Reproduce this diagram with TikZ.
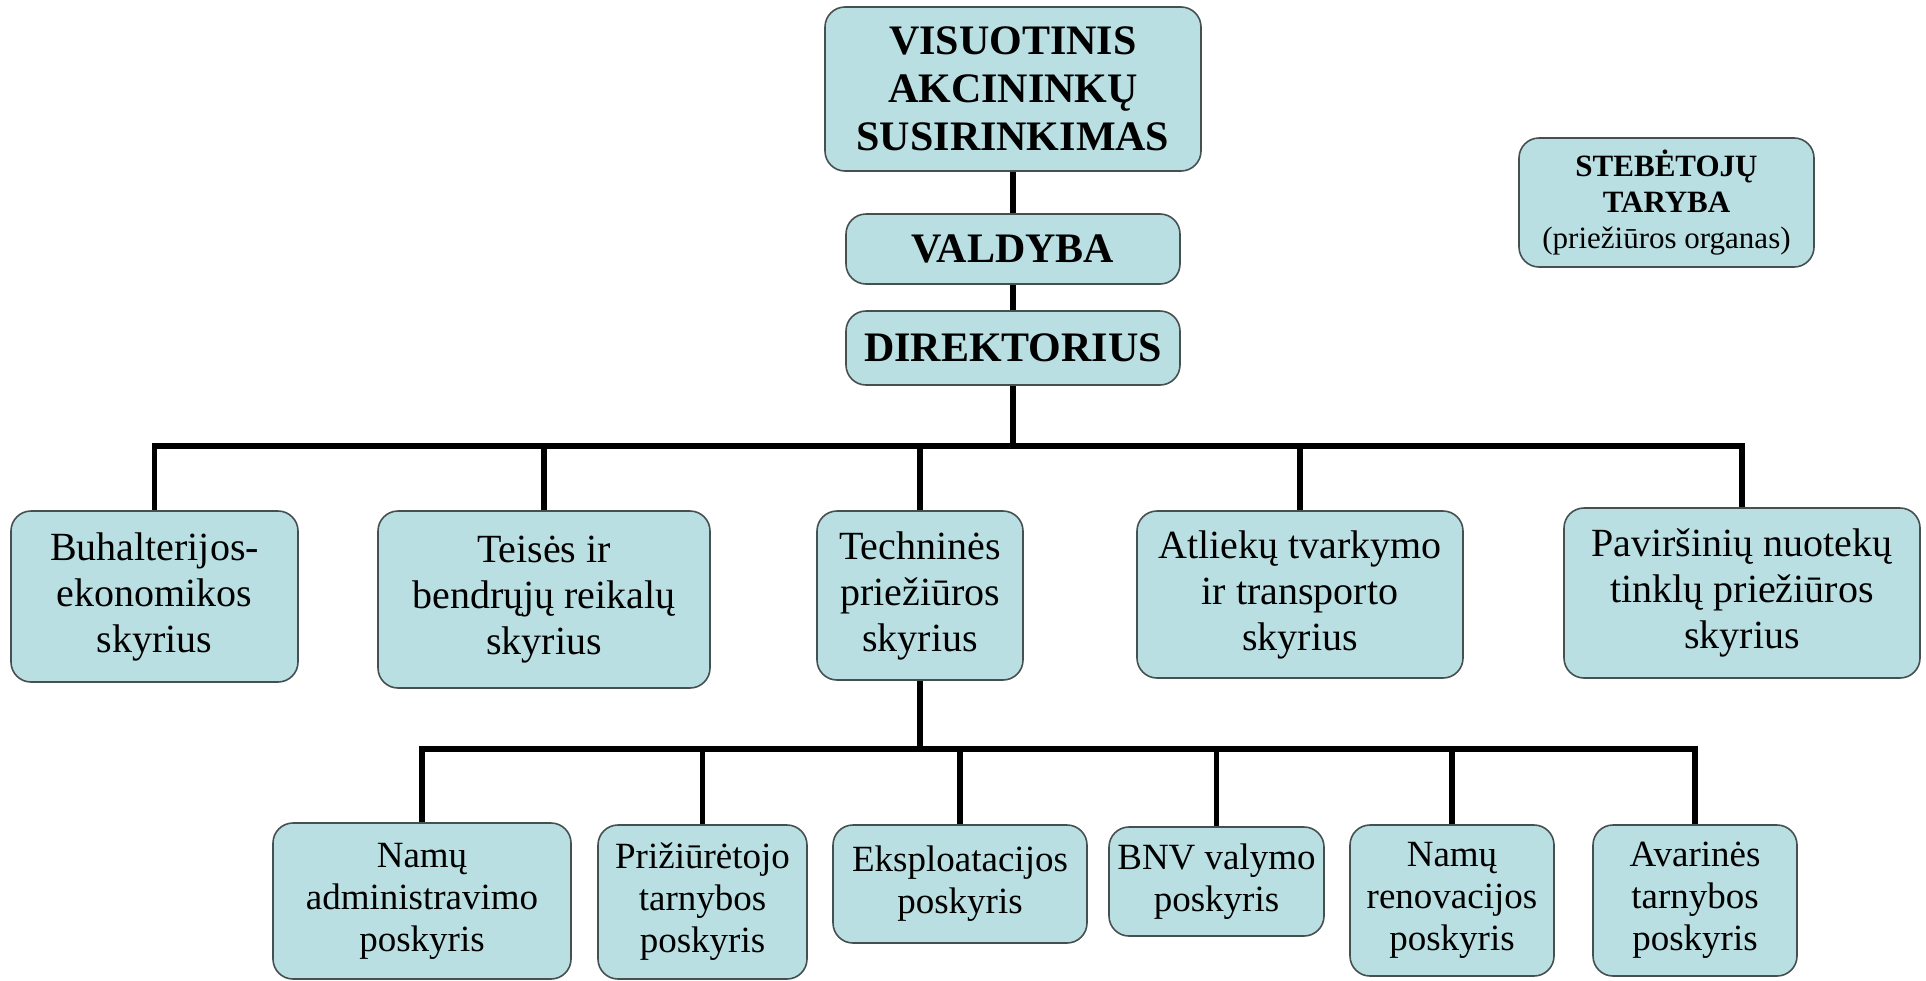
\documentclass[tikz,border=0pt]{standalone}
\usepackage{fontspec}
\setmainfont{Liberation Serif}
\definecolor{boxfill}{RGB}{185,223,226}
\definecolor{boxline}{RGB}{70,80,80}

\begin{document}
\begin{tikzpicture}[x=0.5pt,y=-0.5pt]
		\tikzset{unit/.style = {draw=boxline, line width=0.8pt, fill=boxfill, rounded corners=10pt, align=center, inner sep=0pt}}
		\tikzset{edge/.style = {draw, line width=2.8pt, -}}
		\tikzset{head/.style = {font=\bfseries\fontsize{21}{24}\selectfont}}
		\tikzset{dept/.style = {font=\fontsize{20}{23}\selectfont}}
		\tikzset{sub/.style = {font=\fontsize{18.5}{21}\selectfont}}
		
		\useasboundingbox (0,0) rectangle (1926,980);
		
		% nodes
		\node[unit,head,minimum width=188pt,minimum height=82pt] (vas) at (1013,89) {VISUOTINIS\\AKCININKŲ\\SUSIRINKIMAS};
		\node[unit,head,minimum width=167pt,minimum height=35pt] (val) at (1013,249) {VALDYBA};
		\node[unit,head,minimum width=167pt,minimum height=37pt] (dir) at (1013,348) {DIREKTORIUS};
		\node[unit,font=\fontsize{15.5}{18}\selectfont,minimum width=147.5pt,minimum height=64.5pt] (st) at (1666.5,202.5) {\textbf{STEBĖTOJŲ}\\\textbf{TARYBA}\\(priežiūros organas)};
		
		\node[unit,dept,minimum width=143.5pt,minimum height=85.5pt] (buh) at (154.5,596.5) {Buhalterijos-\\ekonomikos\\skyrius};
		\node[unit,dept,minimum width=166pt,minimum height=88.5pt] (teis) at (544,599.5) {Teisės ir\\bendrųjų reikalų\\skyrius};
		\node[unit,dept,minimum width=103pt,minimum height=84.5pt] (tech) at (920,595.5) {Techninės\\priežiūros\\skyrius};
		\node[unit,dept,minimum width=163pt,minimum height=83.5pt] (atl) at (1300,594.5) {Atliekų tvarkymo\\ir transporto\\skyrius};
		\node[unit,dept,minimum width=178pt,minimum height=85pt] (pav) at (1742,593) {Paviršinių nuotekų\\tinklų priežiūros\\skyrius};
		
		\node[unit,sub,minimum width=149pt,minimum height=78pt] (nad) at (422,901) {Namų\\administravimo\\poskyris};
		\node[unit,sub,minimum width=104.5pt,minimum height=77pt] (pri) at (702.5,902) {Prižiūrėtojo\\tarnybos\\poskyris};
		\node[unit,sub,minimum width=127pt,minimum height=59pt] (eks) at (960,884) {Eksploatacijos\\poskyris};
		\node[unit,sub,minimum width=107.5pt,minimum height=54.5pt] (bnv) at (1216.5,881.5) {BNV valymo\\poskyris};
		\node[unit,sub,minimum width=102pt,minimum height=75.5pt] (ren) at (1452,900.5) {Namų\\renovacijos\\poskyris};
		\node[unit,sub,minimum width=102pt,minimum height=75.5pt] (ava) at (1695,900.5) {Avarinės\\tarnybos\\poskyris};
		
		% edges
		\coordinate (bus1) at (1013,446);
		\coordinate (bus2) at (920,749);
		\draw[edge] (vas) -- (val) -- (dir) -- (bus1);
		\foreach \n in {buh,teis,tech,atl,pav}
			\draw[edge] (bus1) -| (\n);
		\draw[edge] (tech) -- (bus2);
		\foreach \n in {nad,pri,eks,bnv,ren,ava}
			\draw[edge] (bus2) -| (\n);
		\end{tikzpicture}
\end{document}
